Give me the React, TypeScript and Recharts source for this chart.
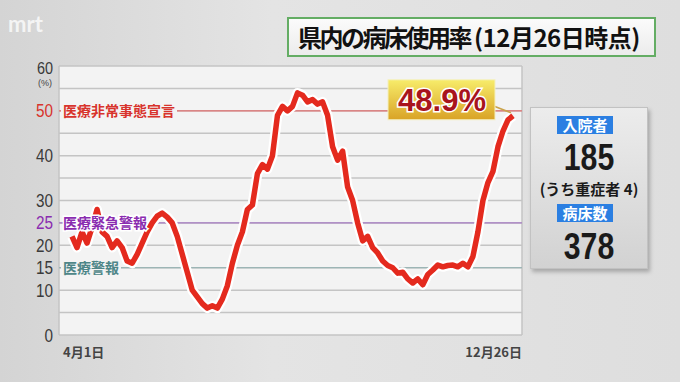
import { LineChart, Line, XAxis, YAxis, CartesianGrid, ReferenceLine } from "recharts";

// 病床使用率 (%), 4月1日 → 12月26日
const rates = [
  22, 19.5, 23, 20.5, 24, 28, 23, 22, 19.5, 21, 19.5, 16.5, 16, 18, 20.5, 23, 25, 26.5, 27.2, 26.3,
  25, 22, 18, 14, 10, 8.5, 7, 6, 6.5, 6, 8, 11, 16, 20, 23, 28, 29, 36, 38, 37,
  40, 49, 51, 50, 51, 54, 53.5, 52, 52.5, 51.5, 52, 49, 42, 39, 41, 33, 30, 25, 21, 22,
  19.5, 18.3, 16.5, 15.5, 15, 13.8, 14, 12.5, 11.6, 12.5, 11.2, 13.5, 14.5, 15.6, 15.2, 15.5, 15.6, 15.2, 16, 15.2,
  17.5, 23, 30, 34, 36.5, 42, 45.5, 48, 48.9,
];
const xTickLabels = ["4月1日", "12月26日"];
const yTicks = [0, 10, 15, 20, 25, 30, 40, 50, 60];
const gridValues = [0, 5, 10, 15, 20, 25, 30, 35, 40, 45, 50, 55, 60];
const alertLevels = [
  { value: 50, name: "医療非常事態宣言", color: "#d8332c", line: "#e27070" },
  { value: 25, name: "医療緊急警報", color: "#8a2cb0", line: "#a77cc4" },
  { value: 15, name: "医療警報", color: "#4e8688", line: "#8fb0b0" },
];
const title = "県内の病床使用率";
const titleDate = "(12月26日時点)";
const inpatients = 185;
const severe = 4;
const beds = 378;

const data = rates.map((rate, i) => ({ i, rate }));
const last = data.length - 1;
const jp = '"Noto Sans CJK JP", "Noto Sans", sans-serif';
const num = '"Liberation Sans", Arial, sans-serif';

const tickColor = (v: number) => {
  const lv = alertLevels.find((a) => a.value === v && a.value !== 15);
  return lv ? lv.color : "#3a3a3a";
};

const YTick = (props: any) => {
  const { x, y, payload } = props;
  const top = payload.value === 60;
  return (
    <g>
      <text
        transform={`translate(${x + 2},${y + (top ? 7.5 : 6.5)}) scale(0.85,1)`}
        textAnchor="end"
        fontSize={top ? 17 : 18}
        fontFamily={num}
        fill={tickColor(payload.value)}
      >
        {payload.value}
      </text>
      {top && (
        <text x={x - 6} y={y + 20} textAnchor="middle" fontSize={9} fontFamily={num} fill="#444">
          (%)
        </text>
      )}
    </g>
  );
};

const XTick = (props: any) => {
  const { x, y, payload } = props;
  const first = payload.value === 0;
  return (
    <text
      x={first ? x - 9 : x + 9}
      y={y + 14}
      textAnchor={first ? "start" : "end"}
      fontSize={13}
      fontWeight={700}
      fontFamily={jp}
      fill="#444"
    >
      {first ? xTickLabels[0] : xTickLabels[1]}
    </text>
  );
};

const levelLabel = (name: string, color: string, halo: boolean) => (props: any) => {
  const { viewBox } = props;
  const w = name.length * 14 + 4;
  return (
    <g>
      {!halo && <rect x={viewBox.x + 2} y={viewBox.y - 8} width={w} height={16} fill="#f3f3f3" />}
      <text
        x={viewBox.x + 4}
        y={viewBox.y + 5}
        fontSize={14}
        fontWeight={700}
        fontFamily={jp}
        fill={color}
        stroke="#fff"
        strokeWidth={halo ? 3 : 0}
        paintOrder="stroke"
      >
        {name}
      </text>
    </g>
  );
};

const Callout = (props: any) => {
  const { x, y, index, value } = props;
  if (index !== last) return <g />;
  return (
    <g>
      <defs>
        <linearGradient id="callout" x1="0" y1="0" x2="0" y2="1">
          <stop offset="0%" stopColor="#f7ec6a" />
          <stop offset="100%" stopColor="#d9a326" />
        </linearGradient>
      </defs>
      <line x1={x - 20} y1={y - 10} x2={x - 2} y2={y - 3} stroke="#caa24a" strokeWidth={1.5} />
      <rect x={x - 125} y={y - 36} width={107} height={40} fill="url(#callout)" stroke="#f4f0c0" strokeWidth={1} />
      <text
        x={x - 71}
        y={y - 5}
        textAnchor="middle"
        fontSize={31}
        fontWeight={700}
        fontFamily={num}
        fill="#a8141c"
        stroke="#fff"
        strokeWidth={3}
        paintOrder="stroke"
      >
        {value}%
      </text>
    </g>
  );
};

const badge: React.CSSProperties = {
  position: "absolute",
  left: 26,
  width: 56,
  height: 18,
  background: "#2b7fe2",
  color: "#fff",
  fontSize: 15,
  fontWeight: 700,
  lineHeight: "18px",
  textAlign: "center",
};

const big: React.CSSProperties = {
  position: "absolute",
  left: 0,
  width: "100%",
  height: 40,
  textAlign: "center",
  fontSize: 36,
  fontWeight: 700,
  fontFamily: num,
  color: "#1a1a1a",
  lineHeight: "40px",
};

const squeeze: React.CSSProperties = { display: "inline-block", transform: "scaleX(0.84)" };

export default function App() {
  return (
    <div
      style={{
        position: "fixed",
        left: 0,
        top: 0,
        width: 680,
        height: 382,
        overflow: "hidden",
        background: "linear-gradient(90deg, #d4d4d4 0%, #e4e4e4 40%, #dedede 100%)",
        fontFamily: jp,
      }}
    >
      <div style={{ position: "absolute", left: 8, top: 10, fontSize: 22, fontWeight: 700, color: "rgba(255,255,255,0.75)", fontFamily: "Lato, sans-serif" }}>
        mrt
      </div>

      <div
        style={{
          position: "absolute",
          left: 287,
          top: 17,
          width: 356,
          height: 36,
          border: "2.5px solid #64ad64",
          background: "linear-gradient(#fbfbfb, #ececec)",
          whiteSpace: "nowrap",
          lineHeight: "36px",
          paddingLeft: 9,
          boxSizing: "content-box",
          color: "#111",
          fontWeight: 700,
        }}
      >
        <span style={{ fontSize: 24, letterSpacing: -2.5 }}>{title}</span>
        <span style={{ fontSize: 24, letterSpacing: -0.5, marginLeft: 4 }}>{titleDate}</span>
      </div>

      <div style={{ position: "absolute", left: 0, top: 0 }}>
        <LineChart width={680} height={382} data={data} margin={{ top: 66, right: 158, bottom: 17, left: 0 }}>
          <CartesianGrid
            horizontalValues={gridValues}
            verticalPoints={[59, 522]}
            stroke="#c4c4c4"
            strokeWidth={1.5}
            fill="#f3f3f3"
          />
          <XAxis
            type="number"
            dataKey="i"
            domain={[0, last]}
            ticks={[0, last]}
            padding={{ left: 13, right: 9 }}
            height={30}
            axisLine={false}
            tickLine={false}
            tick={<XTick />}
          />
          <YAxis
            domain={[0, 60]}
            ticks={yTicks}
            width={59}
            axisLine={false}
            tickLine={false}
            tick={<YTick />}
            interval={0}
          />
          {alertLevels.map((a) => (
            <ReferenceLine key={a.value} y={a.value} stroke={a.line} strokeWidth={1.2} />
          ))}
          <Line dataKey="rate" stroke="#ffffff" strokeWidth={10} dot={false} isAnimationActive={false} strokeLinejoin="round" />
          <Line
            dataKey="rate"
            stroke="#e42a1e"
            strokeWidth={5.5}
            dot={false}
            isAnimationActive={false}
            strokeLinejoin="round"
            label={<Callout />}
          />
          {alertLevels.map((a) => (
            <ReferenceLine key={"l" + a.value} y={a.value} stroke="none" label={levelLabel(a.name, a.color, a.value === 25)} />
          ))}
        </LineChart>
      </div>

      <div
        style={{
          position: "absolute",
          left: 530,
          top: 107,
          width: 116,
          height: 160,
          background: "linear-gradient(#ececec, #d2d2d2)",
          border: "1px solid #c2c2c2",
          boxShadow: "2px 3px 4px rgba(0,0,0,0.25)",
        }}
      >
        <div style={{ ...badge, top: 8 }}>入院者</div>
        <div style={{ ...big, top: 30 }}>
          <span style={squeeze}>{inpatients}</span>
        </div>
        <div style={{ position: "absolute", top: 71, left: 0, width: "100%", textAlign: "center", fontSize: 15, lineHeight: "20px", fontWeight: 700, color: "#1a1a1a", whiteSpace: "nowrap" }}>
          (うち重症者 {severe})
        </div>
        <div style={{ ...badge, top: 96 }}>病床数</div>
        <div style={{ ...big, top: 119 }}>
          <span style={squeeze}>{beds}</span>
        </div>
      </div>
    </div>
  );
}
